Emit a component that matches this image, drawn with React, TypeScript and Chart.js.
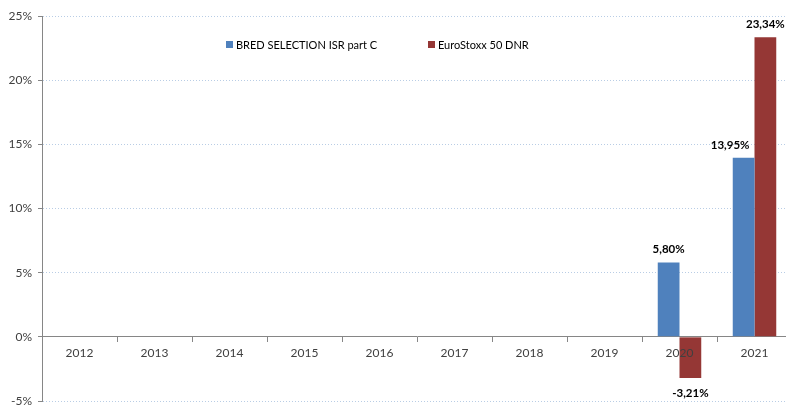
import React, { useEffect, useRef } from "react";
import { Chart, registerables } from "chart.js";

Chart.register(...registerables);

const categories = ["2012", "2013", "2014", "2015", "2016", "2017", "2018", "2019", "2020", "2021"];
const bredValues: (number | null)[] = [null, null, null, null, null, null, null, null, 5.8, 13.95];
const euroValues: (number | null)[] = [null, null, null, null, null, null, null, null, -3.21, 23.34];
const seriesNames = ["BRED SELECTION ISR part C", "EuroStoxx 50 DNR"];
const yTicks = [-5, 0, 5, 10, 15, 20, 25];

const BLUE = "#4F81BD";
const RED = "#953735";
const FONT = "Lato, 'Liberation Sans', sans-serif";

const fmt = (v: number) => v.toFixed(2).replace(".", ",") + "%";

const dataLabelPlugin = {
  id: "dataLabels",
  afterDraw(chart: any) {
    const ctx = chart.ctx;
    ctx.save();
    ctx.font = `bold 11.5px ${FONT}`;
    ctx.fillStyle = "#000";
    ctx.textBaseline = "middle";
    const n = chart.data.datasets.length;
    chart.data.datasets.forEach((ds: any, i: number) => {
      const meta = chart.getDatasetMeta(i);
      meta.data.forEach((el: any, j: number) => {
        const v = ds.data[j];
        if (v === null || v === undefined) return;
        const y = v >= 0 ? el.y - 13 : el.y + 15;
        let x = el.x;
        ctx.textAlign = "center";
        // avoid overlapping a taller neighbouring bar on the right
        if (i < n - 1 && v >= 0) {
          const next = chart.getDatasetMeta(i + 1).data[j];
          const nv = chart.data.datasets[i + 1].data[j];
          if (next && nv !== null && nv !== undefined && next.y < y + 6) {
            const w = ctx.measureText(fmt(v)).width;
            if (el.x + w / 2 > next.x - next.width / 2) {
              ctx.textAlign = "right";
              x = el.x + el.width / 2 - 5;
            }
          }
        }
        ctx.fillText(fmt(v), x, y);
      });
    });
    ctx.restore();
  },
};

const legendPlugin = {
  id: "customLegend",
  afterDraw(chart: any) {
    const ctx = chart.ctx;
    const positions = [226, 428];
    const y = 45;
    ctx.save();
    ctx.font = `11px ${FONT}`;
    ctx.textBaseline = "middle";
    ctx.textAlign = "left";
    chart.data.datasets.forEach((ds: any, i: number) => {
      const x = positions[i];
      ctx.fillStyle = ds.backgroundColor;
      ctx.fillRect(x, y - 4, 7, 7);
      ctx.fillStyle = "#000";
      ctx.fillText(ds.label, x + 10, y);
    });
    ctx.restore();
  },
};

export default function App() {
  const ref = useRef<HTMLCanvasElement>(null);
  useEffect(() => {
    document.documentElement.style.overflow = "hidden";
    document.body.style.overflow = "hidden";
    const chart = new Chart(ref.current!, {
      type: "bar",
      data: {
        labels: categories,
        datasets: [
          { label: seriesNames[0], data: bredValues, backgroundColor: BLUE },
          { label: seriesNames[1], data: euroValues, backgroundColor: RED },
        ],
      },
      plugins: [dataLabelPlugin, legendPlugin],
      options: {
        animation: false,
        responsive: false,
        maintainAspectRatio: false,
        layout: { padding: { top: 16, bottom: 5, left: 0, right: 0 } },
        datasets: { bar: { categoryPercentage: 0.58, barPercentage: 1 } },
        plugins: { legend: { display: false }, tooltip: { enabled: false } },
        scales: {
          x: {
            position: { y: 0 } as any,
            grid: {
              offset: true,
              drawOnChartArea: false,
              drawTicks: true,
              tickLength: 5,
              tickColor: "#868686",
            },
            border: { display: true, color: "#868686", width: 1 },
            ticks: { color: "#404040", font: { family: FONT, size: 12 }, padding: 4, z: 1 } as any,
          },
          y: {
            min: -5,
            max: 25,
            afterBuildTicks(scale: any) {
              scale.ticks = yTicks.map((v) => ({ value: v }));
            },
            afterFit(scale: any) {
              scale.width = 42;
              scale.paddingTop = 0;
              scale.paddingBottom = 0;
            },
            grid: {
              color: (c: any) => (c.tick && c.tick.value === 0 ? "rgba(0,0,0,0)" : "#b9cde5"),
              tickColor: "#868686",
              tickLength: 4,
              tickBorderDash: [],
            },
            border: { display: true, color: "#868686", dash: [1, 2] },
            ticks: {
              color: "#404040",
              font: { family: FONT, size: 12 },
              padding: 6,
              callback: (v: any) => v + "%",
            },
          },
        },
      },
    });
    return () => chart.destroy();
  }, []);
  return (
    <div style={{ position: "fixed", left: 0, top: 0, width: 792, height: 406 }}>
      <canvas ref={ref} width={792} height={406} style={{ width: 792, height: 406 }} />
    </div>
  );
}
